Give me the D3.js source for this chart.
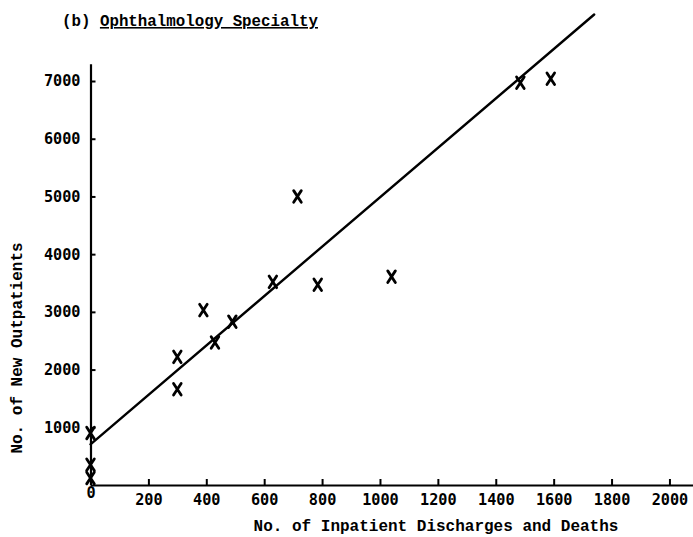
<!DOCTYPE html>
<html>
<head>
<meta charset="utf-8">
<script src="https://cdn.jsdelivr.net/npm/d3@7"></script>
<style>
  html, body { margin: 0; padding: 0; background: #fff; }
  svg { display: block; }
  .mono { font-family: "Liberation Mono", "DejaVu Sans Mono", monospace; fill: #000; }
  .tick text { font-family: "DejaVu Sans Mono", "Liberation Mono", monospace; font-size: 15.2px; font-weight: bold; fill: #000; }
</style>
</head>
<body>
<svg id="chart" width="693" height="537"></svg>
<script>
// Hospitals: inpatient discharges and deaths vs. new outpatients (ophthalmology)
const discharges  = [0, 0, 0, 300, 300, 390, 430, 490, 630, 715, 785, 1040, 1485, 1590];
const outpatients = [900, 350, 120, 2220, 1660, 3030, 2470, 2830, 3520, 5000, 3470, 3610, 6970, 7040];

// Fitted straight line: outpatients = intercept + slope * discharges
const fitIntercept = 705;
const fitSlope = 4.28;
const fitRange = [0, 1740];

const xTicks = [0, 200, 400, 600, 800, 1000, 1200, 1400, 1600, 1800, 2000];
const yTicks = [1000, 2000, 3000, 4000, 5000, 6000, 7000];

const titlePrefix = "(b) ";
const titleMain = "Ophthalmology Specialty";
const xTitle = "No. of Inpatient Discharges and Deaths";
const yTitle = "No. of New Outpatients";

const svg = d3.select("#chart");

const x = d3.scaleLinear().domain([0, 2090]).range([90.5, 695.5]);
const y = d3.scaleLinear().domain([0, 7300]).range([485, 63.7]);

// x axis, ticks pointing up into the plot
const gx = svg.append("g")
  .attr("transform", `translate(0,${y(0)})`)
  .call(d3.axisBottom(x).tickValues(xTicks).tickFormat(d3.format("d"))
        .tickSize(-6).tickSizeOuter(0).tickPadding(9));
gx.select(".domain").attr("stroke", "#000").attr("stroke-width", 2.2);
gx.selectAll(".tick line").attr("stroke", "#000").attr("stroke-width", 2);
gx.selectAll(".tick").filter(d => d === 0).select("line").remove();
gx.selectAll(".tick").filter(d => d === 0).select("text").attr("y", 2);

// y axis, ticks pointing right into the plot
const gy = svg.append("g")
  .attr("transform", `translate(${x(0)},0)`)
  .call(d3.axisLeft(y).tickValues(yTicks).tickFormat(d3.format("d"))
        .tickSize(-5).tickSizeOuter(0).tickPadding(10));
gy.select(".domain").attr("stroke", "#000").attr("stroke-width", 2.2);
gy.selectAll(".tick line").attr("stroke", "#000").attr("stroke-width", 2);

// fitted line
svg.append("line")
  .attr("x1", x(fitRange[0])).attr("y1", y(fitIntercept + fitSlope * fitRange[0]))
  .attr("x2", x(fitRange[1])).attr("y2", y(fitIntercept + fitSlope * fitRange[1]))
  .attr("stroke", "#000").attr("stroke-width", 2.4).attr("stroke-linecap", "round");

// hand-drawn style "x" markers
const hw = 3.8, hh = 5.8;
svg.append("g").selectAll("path")
  .data(discharges.map((d, i) => [d, outpatients[i]]))
  .join("path")
  .attr("d", d => {
    const cx = x(d[0]), cy = y(d[1]);
    return `M${cx - hw},${cy - hh}L${cx + hw},${cy + hh}M${cx + hw},${cy - hh}L${cx - hw},${cy + hh}`;
  })
  .attr("stroke", "#000").attr("stroke-width", 2.8).attr("fill", "none")
  .attr("stroke-linecap", "round");

// title
const title = svg.append("text").attr("class", "mono")
  .attr("x", 62).attr("y", 26)
  .attr("font-size", "15.8px").attr("font-weight", "bold");
title.append("tspan").text(titlePrefix);
title.append("tspan").attr("text-decoration", "underline").text(titleMain);

// axis titles
svg.append("text").attr("class", "mono")
  .attr("x", 436).attr("y", 531)
  .attr("text-anchor", "middle")
  .attr("font-size", "16px").attr("font-weight", "bold")
  .text(xTitle);

svg.append("text").attr("class", "mono")
  .attr("transform", "translate(22,348) rotate(-90)")
  .attr("text-anchor", "middle")
  .attr("font-size", "16px").attr("font-weight", "bold")
  .text(yTitle);
</script>
</body>
</html>
